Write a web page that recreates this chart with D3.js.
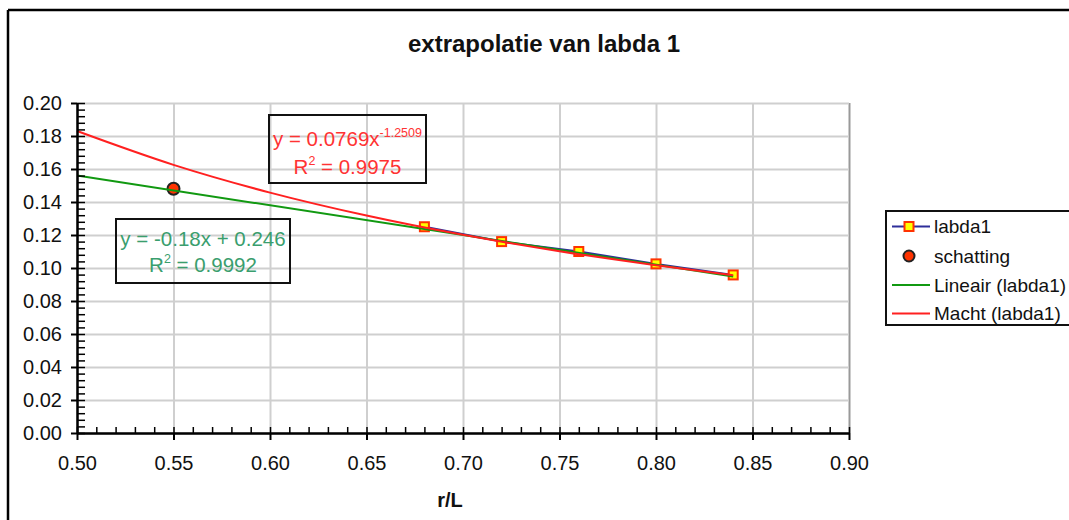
<!DOCTYPE html>
<html>
<head>
<meta charset="utf-8">
<script src="https://cdn.jsdelivr.net/npm/d3@7"></script>
<style>
  html, body { margin: 0; padding: 0; background: #ffffff; }
  svg { display: block; font-family: "Liberation Sans", Arial, sans-serif; }
</style>
</head>
<body>
<svg id="chart" width="1069" height="520"></svg>
<script>
// ---- data ----
const xTicks = [0.50, 0.55, 0.60, 0.65, 0.70, 0.75, 0.80, 0.85, 0.90];
const yTicks = [0.00, 0.02, 0.04, 0.06, 0.08, 0.10, 0.12, 0.14, 0.16, 0.18, 0.20];
const xMinorTicks = d3.range(50, 91, 1).map(v => v / 100);
const yMinorTicks = d3.range(0, 51, 1).map(v => v * 0.004);

const labdaX = [0.68, 0.72, 0.76, 0.80, 0.84];
const labdaY = [0.125, 0.116, 0.110, 0.1025, 0.0958];

const schattingX = [0.55];
const schattingY = [0.148];

// linear trendline (Lineair (labda1)) as drawn
const linX = [0.50, 0.84];
const linY = [0.156, 0.0948];

// power trendline (Macht (labda1)) as drawn
const powX = [0.50, 0.55, 0.60, 0.65, 0.70, 0.75, 0.80, 0.84];
const powY = [0.183, 0.1625, 0.1457, 0.1318, 0.1201, 0.1102, 0.1017, 0.0956];

const legendLabels = ["labda1", "schatting", "Lineair (labda1)", "Macht (labda1)"];
const titleText = "extrapolatie van labda 1";
const xTitle = "r/L";

// ---- layout ----
const svg = d3.select("#chart");
const pL = 77, pR = 849, pT = 103, pB = 433;
const x = d3.scaleLinear().domain([0.5, 0.9]).range([pL, pR]);
const y = d3.scaleLinear().domain([0, 0.2]).range([pB, pT]);

// outer chart border (top and left visible)
svg.append("line").attr("x1", 8).attr("x2", 1069).attr("y1", 10).attr("y2", 10)
  .attr("stroke", "#000").attr("stroke-width", 2.5);
svg.append("line").attr("x1", 8).attr("x2", 8).attr("y1", 10).attr("y2", 520)
  .attr("stroke", "#000").attr("stroke-width", 2.5);

// title
svg.append("text").attr("x", 544).attr("y", 52).attr("text-anchor", "middle")
  .attr("font-size", 24).attr("font-weight", "bold").attr("fill", "#111")
  .text(titleText);

// gridlines
const gx = svg.append("g").attr("transform", `translate(0,${pB})`)
  .call(d3.axisBottom(x).tickValues(xTicks).tickSize(-(pB - pT)).tickFormat(""));
gx.select(".domain").remove();
gx.selectAll("line").attr("stroke", "#cfcfcf").attr("stroke-width", 2);
gx.selectAll(".tick").filter(d => d === 0.90).select("line").attr("stroke", "#999999");

const gy = svg.append("g").attr("transform", `translate(${pL},0)`)
  .call(d3.axisLeft(y).tickValues(yTicks).tickSize(-(pR - pL)).tickFormat(""));
gy.select(".domain").remove();
gy.selectAll("line").attr("stroke", "#cfcfcf").attr("stroke-width", 2);

// series line labda1
const line = d3.line().x(d => x(d[0])).y(d => y(d[1]));
const labdaData = labdaX.map((v, i) => [v, labdaY[i]]);
svg.append("path").datum(labdaData).attr("d", line)
  .attr("fill", "none").attr("stroke", "#2e2e9a").attr("stroke-width", 2);

// markers labda1
svg.append("g").selectAll("rect").data(labdaData).join("rect")
  .attr("x", d => x(d[0]) - 4.5).attr("y", d => y(d[1]) - 4.5)
  .attr("width", 9).attr("height", 9)
  .attr("fill", "#ffff00").attr("stroke", "#ff3300").attr("stroke-width", 2);

// schatting
const schData = schattingX.map((v, i) => [v, schattingY[i]]);
svg.append("g").selectAll("circle").data(schData).join("circle")
  .attr("cx", d => x(d[0])).attr("cy", d => y(d[1])).attr("r", 6)
  .attr("fill", "#ff3300").attr("stroke", "#222").attr("stroke-width", 2);

// trendlines
const linData = linX.map((v, i) => [v, linY[i]]);
svg.append("path").datum(linData).attr("d", line)
  .attr("fill", "none").attr("stroke", "#119911").attr("stroke-width", 2);
const powData = powX.map((v, i) => [v, powY[i]]);
svg.append("path").datum(powData).attr("d", d3.line().curve(d3.curveMonotoneX).x(d => x(d[0])).y(d => y(d[1])))
  .attr("fill", "none").attr("stroke", "#ff2020").attr("stroke-width", 2);

// axes
const xMajor = svg.append("g").attr("transform", `translate(0,${pB})`)
  .call(d3.axisBottom(x).tickValues(xTicks).tickSize(7).tickSizeOuter(0).tickFormat(d3.format(".2f")));
xMajor.select(".domain").attr("stroke", "#000").attr("stroke-width", 2.5);
xMajor.selectAll(".tick line").attr("stroke", "#000").attr("stroke-width", 2);
xMajor.selectAll(".tick text").attr("y", 23).attr("font-size", 20).attr("fill", "#111")
  .attr("font-family", "Liberation Sans, Arial, sans-serif");
const xMinor = svg.append("g").attr("transform", `translate(0,${pB})`)
  .call(d3.axisTop(x).tickValues(xMinorTicks).tickSize(6).tickSizeOuter(0).tickFormat(""));
xMinor.select(".domain").remove();
xMinor.selectAll(".tick line").attr("stroke", "#000").attr("stroke-width", 1.5);

const yMajor = svg.append("g").attr("transform", `translate(${pL},0)`)
  .call(d3.axisLeft(y).tickValues(yTicks).tickSize(6).tickSizeOuter(0).tickFormat(d3.format(".2f")));
yMajor.select(".domain").attr("stroke", "#000").attr("stroke-width", 2.5);
yMajor.selectAll(".tick line").attr("stroke", "#000").attr("stroke-width", 2);
yMajor.selectAll(".tick text").attr("x", -15).attr("font-size", 20).attr("fill", "#111")
  .attr("font-family", "Liberation Sans, Arial, sans-serif");
const yMinor = svg.append("g").attr("transform", `translate(${pL},0)`)
  .call(d3.axisRight(y).tickValues(yMinorTicks).tickSize(8).tickSizeOuter(0).tickFormat(""));
yMinor.select(".domain").remove();
yMinor.selectAll(".tick line").attr("stroke", "#000").attr("stroke-width", 1.5);

// x axis title
svg.append("text").attr("x", 450).attr("y", 507).attr("text-anchor", "middle")
  .attr("font-size", 20).attr("font-weight", "bold").attr("fill", "#111").text(xTitle);

// trendline labels
function eqBox(bx, by, bw, bh, color, parts1, parts2, base1, base2) {
  svg.append("rect").attr("x", bx).attr("y", by).attr("width", bw).attr("height", bh)
    .attr("fill", "none").attr("stroke", "#111").attr("stroke-width", 2);
  [[parts1, base1], [parts2, base2]].forEach(([parts, base]) => {
    const t = svg.append("text").attr("x", bx + bw / 2).attr("y", base)
      .attr("text-anchor", "middle").attr("font-size", 20.5).attr("fill", color);
    parts.forEach(p => {
      if (p.sup) {
        t.append("tspan").attr("dy", -9).attr("font-size", 12.5).text(p.t);
        if (p.after) t.append("tspan").attr("dy", 9).text(p.after);
      } else {
        t.append("tspan").text(p.t);
      }
    });
  });
}
eqBox(269, 115, 157, 68, "#ff3333",
  [{t: "y = 0.0769x"}, {t: "-1.2509", sup: true}],
  [{t: "R"}, {t: "2", sup: true, after: " = 0.9975"}], 146, 174);
eqBox(116, 219, 174, 64, "#3a9e6e",
  [{t: "y = -0.18x + 0.246"}],
  [{t: "R"}, {t: "2", sup: true, after: " = 0.9992"}], 246, 272);

// legend
const lg = svg.append("g");
lg.append("rect").attr("x", 886).attr("y", 211).attr("width", 200).attr("height", 114)
  .attr("fill", "#fff").attr("stroke", "#111").attr("stroke-width", 2);
const ly = [226.5, 256, 285, 313.5];
legendLabels.forEach((lab, i) => {
  const yy = ly[i];
  if (i === 0) {
    lg.append("line").attr("x1", 892).attr("x2", 930).attr("y1", yy).attr("y2", yy)
      .attr("stroke", "#2e2e9a").attr("stroke-width", 2);
    lg.append("rect").attr("x", 904.5).attr("y", yy - 4.5).attr("width", 9).attr("height", 9)
      .attr("fill", "#ffff00").attr("stroke", "#ff3300").attr("stroke-width", 2);
  } else if (i === 1) {
    lg.append("circle").attr("cx", 909).attr("cy", yy).attr("r", 5.5)
      .attr("fill", "#ff3300").attr("stroke", "#222").attr("stroke-width", 2);
  } else {
    lg.append("line").attr("x1", 892).attr("x2", 930).attr("y1", yy).attr("y2", yy)
      .attr("stroke", i === 2 ? "#119911" : "#ff2020").attr("stroke-width", 2);
  }
  lg.append("text").attr("x", 934).attr("y", yy).attr("dy", "0.35em")
    .attr("font-size", 19).attr("fill", "#111").text(lab);
});
</script>
</body>
</html>
